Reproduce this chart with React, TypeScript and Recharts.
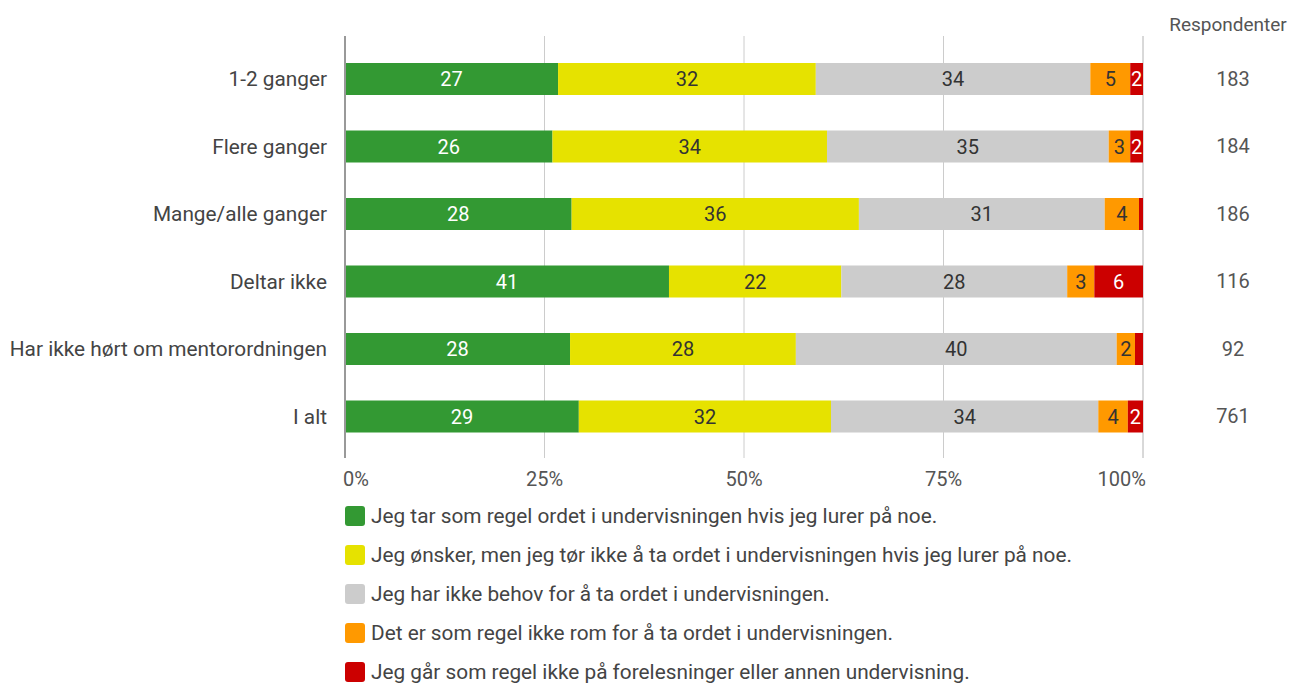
import { BarChart, Bar, XAxis, YAxis, CartesianGrid, LabelList, Legend } from "recharts";

const categories = [
  "1-2 ganger",
  "Flere ganger",
  "Mange/alle ganger",
  "Deltar ikke",
  "Har ikke hørt om mentorordningen",
  "I alt",
];
const respondents = [183, 184, 186, 116, 92, 761];

// andel i prosent per kategori
const tarOrdet = [26.7, 26.0, 28.4, 40.6, 28.2, 29.3];
const torIkke = [32.3, 34.4, 36.0, 21.6, 28.3, 31.6];
const ikkeBehov = [34.4, 35.3, 30.8, 28.3, 40.2, 33.5];
const ikkeRom = [5.0, 2.7, 4.3, 3.4, 2.3, 3.7];
const gaarIkke = [1.6, 1.6, 0.5, 6.1, 1.0, 1.9];

const xTicks = [0, 25, 50, 75, 100];

const series = [
  { key: "tarOrdet", name: "Jeg tar som regel ordet i undervisningen hvis jeg lurer på noe.", color: "#339933", text: "#ffffff" },
  { key: "torIkke", name: "Jeg ønsker, men jeg tør ikke å ta ordet i undervisningen hvis jeg lurer på noe.", color: "#e6e200", text: "#333333" },
  { key: "ikkeBehov", name: "Jeg har ikke behov for å ta ordet i undervisningen.", color: "#cccccc", text: "#333333" },
  { key: "ikkeRom", name: "Det er som regel ikke rom for å ta ordet i undervisningen.", color: "#ff9900", text: "#333333" },
  { key: "gaarIkke", name: "Jeg går som regel ikke på forelesninger eller annen undervisning.", color: "#cc0000", text: "#ffffff" },
];

const data = categories.map((c, i) => ({
  category: c,
  respondents: String(respondents[i]),
  tarOrdet: tarOrdet[i],
  torIkke: torIkke[i],
  ikkeBehov: ikkeBehov[i],
  ikkeRom: ikkeRom[i],
  gaarIkke: gaarIkke[i],
}));

const FONT = "Roboto, 'Noto Sans', sans-serif";

const valueLabel = (fill: string) => (props: any) => {
  const { x, y, width, height, value } = props;
  if (value == null || value < 1.5) return null;
  return (
    <text
      x={x + width / 2}
      y={y + height / 2}
      textAnchor="middle"
      dominantBaseline="central"
      fill={fill}
      fontSize={20}
      fontFamily={FONT}
    >
      {Math.round(value)}
    </text>
  );
};

const XTick = (props: any) => {
  const { x, y, payload } = props;
  const v = payload.value;
  let anchor: "start" | "middle" | "end" = "middle";
  let dx = 0;
  if (v === xTicks[0]) {
    anchor = "start";
    dx = -2;
  } else if (v === xTicks[xTicks.length - 1]) {
    anchor = "end";
    dx = 3;
  }
  return (
    <text x={x + dx} y={y + 28} textAnchor={anchor} fill="#555" fontSize={20} fontFamily={FONT}>
      {v}%
    </text>
  );
};

const RespTick = (props: any) => {
  const { x, y, payload } = props;
  return (
    <text x={x + 90} y={y} dy={7} textAnchor="middle" fill="#555" fontSize={20} fontFamily={FONT}>
      {payload.value}
    </text>
  );
};

// legenden i samme rekkefølge som seriene
const LegendContent = () => (
  <div style={{ fontFamily: FONT }}>
    {series.map((s) => (
      <div key={s.key} style={{ display: "flex", alignItems: "center", height: 39 }}>
        <span
          style={{
            display: "inline-block",
            width: 20,
            height: 20,
            borderRadius: 3,
            background: s.color,
            marginRight: 6,
          }}
        />
        <span style={{ fontSize: 20.8, color: "#444", whiteSpace: "nowrap" }}>{s.name}</span>
      </div>
    ))}
  </div>
);

export default function App() {
  return (
    <div style={{ position: "absolute", left: 0, top: 0, width: 1298, height: 684, background: "#fff" }}>
      <BarChart
        width={1298}
        height={684}
        data={data}
        layout="vertical"
        margin={{ top: 36, right: 0, left: 0, bottom: 196 }}
      >
        <CartesianGrid horizontal={false} vertical={true} stroke="#cccccc" />
        <XAxis
          type="number"
          domain={[0, 100]}
          ticks={xTicks}
          axisLine={false}
          tickLine={false}
          tickSize={0}
          tickMargin={0}
          height={30}
          tick={<XTick />}
          interval={0}
        />
        <YAxis
          type="category"
          dataKey="category"
          width={345}
          tickLine={false}
          tickSize={0}
          tickMargin={18}
          axisLine={{ stroke: "#999999", strokeWidth: 2 }}
          padding={{ top: 9, bottom: 8 }}
          tick={{ fill: "#444", fontSize: 20.8, fontFamily: FONT }}
          interval={0}
        />
        <YAxis
          yAxisId="resp"
          orientation="right"
          type="category"
          dataKey="respondents"
          width={155}
          axisLine={false}
          tickLine={false}
          tickSize={0}
          tickMargin={0}
          padding={{ top: 9, bottom: 8 }}
          tick={<RespTick />}
          interval={0}
          label={{
            content: (lp: any) => {
              const vb = lp.viewBox || { x: 1143, y: 36 };
              return (
                <text x={vb.x + 85} y={vb.y - 5} textAnchor="middle" fill="#555" fontSize={19} fontFamily={FONT}>
                  Respondenter
                </text>
              );
            },
          }}
        />
        <Legend
          layout="vertical"
          align="center"
          verticalAlign="middle"
          wrapperStyle={{ top: 496, left: 345, width: 900 }}
          content={<LegendContent />}
        />
        {series.map((s) => (
          <Bar
            key={s.key}
            dataKey={s.key}
            name={s.name}
            stackId="a"
            fill={s.color}
            barSize={32}
            isAnimationActive={false}
          >
            <LabelList dataKey={s.key} content={valueLabel(s.text)} />
          </Bar>
        ))}
      </BarChart>
    </div>
  );
}
